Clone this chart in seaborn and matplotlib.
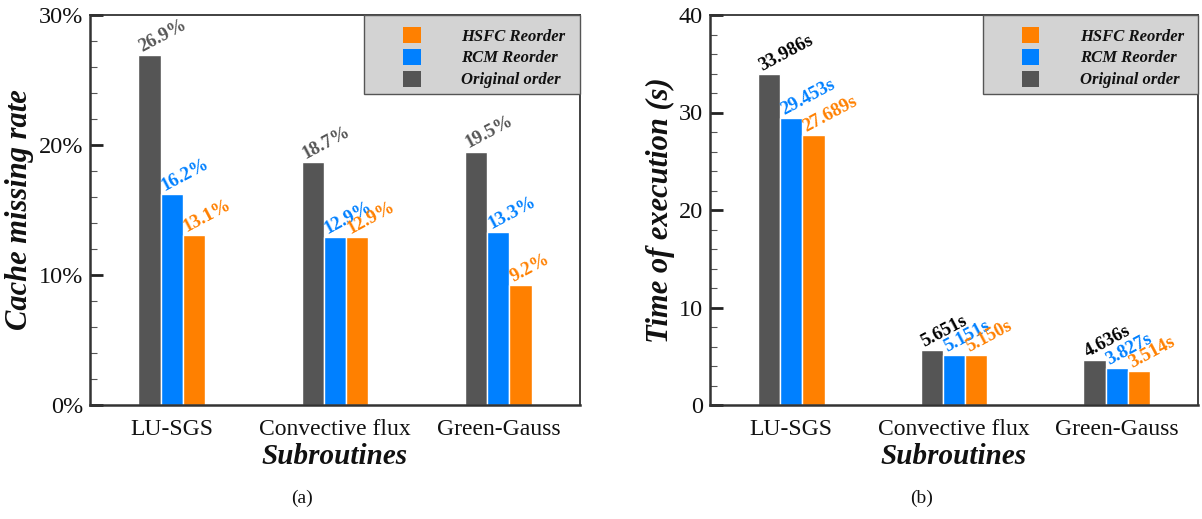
import matplotlib
matplotlib.use("Agg")
import matplotlib.pyplot as plt
from matplotlib.patches import Patch, Rectangle
from matplotlib.ticker import MultipleLocator, FuncFormatter
from matplotlib.transforms import ScaledTranslation
import seaborn as sns
import pandas as pd

# Data
subroutines = ["LU-SGS", "Convective flux", "Green-Gauss"]
orders = ["Original order", "RCM Reorder", "HSFC Reorder"]

miss_original = [26.9, 18.7, 19.5]
miss_rcm = [16.2, 12.9, 13.3]
miss_hsfc = [13.1, 12.9, 9.2]

time_original = [33.986, 5.651, 4.636]
time_rcm = [29.453, 5.151, 3.827]
time_hsfc = [27.689, 5.150, 3.514]

colors = {"Original order": "#555555", "RCM Reorder": "#0080ff", "HSFC Reorder": "#ff8000"}
left_label_colors = {"Original order": "#555555", "RCM Reorder": "#0080ff", "HSFC Reorder": "#ff8000"}
right_label_colors = {"Original order": "#000000", "RCM Reorder": "#0080ff", "HSFC Reorder": "#ff8000"}


def long_frame(orig, rcm, hsfc):
    rows = []
    for name, vals in zip(orders, [orig, rcm, hsfc]):
        for sub, v in zip(subroutines, vals):
            rows.append({"Subroutine": sub, "Order": name, "Value": v})
    return pd.DataFrame(rows)


df_miss = long_frame(miss_original, miss_rcm, miss_hsfc)
df_time = long_frame(time_original, time_rcm, time_hsfc)

sns.set_theme(style="white")
plt.rcParams["font.family"] = ["Liberation Serif", "DejaVu Serif"]
plt.rcParams["text.color"] = "#111111"
plt.rcParams["axes.labelcolor"] = "#111111"
plt.rcParams["xtick.labelcolor"] = "#111111"
plt.rcParams["ytick.labelcolor"] = "#111111"

fig = plt.figure(figsize=(12.02, 5.19), dpi=100)
ax1 = fig.add_axes([90 / 1202, 1 - 405 / 519, 490 / 1202, 390 / 519])
ax2 = fig.add_axes([710 / 1202, 1 - 405 / 519, 488 / 1202, 390 / 519])


def draw_panel(ax, df, ymax, fmt, label_colors, ylabel, yfmt):
    sns.barplot(data=df, x="Subroutine", y="Value", hue="Order",
                order=subroutines, hue_order=orders, palette=colors,
                width=0.41, edgecolor="white", linewidth=1.0,
                saturation=1, errorbar=None, legend=False, ax=ax)
    ax.set_xlim(-0.5, 2.5)
    ax.set_ylim(0, ymax)
    ax.yaxis.set_major_locator(MultipleLocator(10))
    ax.yaxis.set_minor_locator(MultipleLocator(2))
    ax.yaxis.set_major_formatter(FuncFormatter(yfmt))
    ax.tick_params(axis="y", which="major", direction="in", length=9, width=2,
                   color="#222222", labelsize=17.5, pad=5, left=True)
    ax.tick_params(axis="y", which="minor", direction="in", length=5, width=0.8,
                   color="#555555", left=True)
    ax.tick_params(axis="x", bottom=False, labelsize=17, pad=4)
    for s in ax.spines.values():
        s.set_color("#333333")
        s.set_linewidth(1.3)
        s.set_visible(True)
    ax.spines["left"].set_linewidth(1.8)
    ax.spines["bottom"].set_linewidth(1.8)
    ax.set_xlabel("Subroutines", fontsize=21, fontweight="bold",
                  fontstyle="italic", labelpad=2)
    ax.set_ylabel(ylabel, fontsize=22, fontweight="bold",
                  fontstyle="italic", labelpad=3)

    # value labels, rotated and anchored just right of each bar's top-left corner
    shift = ScaledTranslation(4 / 100, 3 / 100, fig.dpi_scale_trans)
    for cont, name in zip(ax.containers, orders):
        for bar in cont:
            h = bar.get_height()
            ax.text(bar.get_x(), h, fmt(h),
                    transform=ax.transData + shift,
                    rotation=28, rotation_mode="anchor", ha="left", va="baseline",
                    fontsize=13.5, fontweight="bold", color=label_colors[name])

    # legend box in the upper-right corner
    ax.add_patch(Rectangle((1 - 216 / 490, 1 - 79 / 390), 216 / 490, 79 / 390,
                           transform=ax.transAxes, facecolor="#d3d3d3",
                           edgecolor="#555555", linewidth=1.0, zorder=3,
                           clip_on=False))
    handles = [Patch(facecolor=colors[n], edgecolor="none") for n in reversed(orders)]
    leg = ax.legend(handles, list(reversed(orders)), loc="upper left",
                    bbox_to_anchor=(1 - 177 / 490, 1 - 12 / 390),
                    frameon=False, handlelength=1.05, handleheight=1.1,
                    handletextpad=2.45, labelspacing=0.25, borderpad=0,
                    borderaxespad=0,
                    prop={"family": "Liberation Serif", "weight": "bold",
                          "style": "italic", "size": 12})
    leg.set_zorder(4)


draw_panel(ax1, df_miss, 30, lambda v: f"{v:.1f}%", left_label_colors,
           "Cache missing rate", lambda v, p: f"{v:.0f}%")
draw_panel(ax2, df_time, 40, lambda v: f"{v:.3f}s", right_label_colors,
           "Time of execution (s)", lambda v, p: f"{v:.0f}")

fig.text(302 / 1202, 1 - 498 / 519, "(a)", ha="center", va="center", fontsize=14)
fig.text(922 / 1202, 1 - 498 / 519, "(b)", ha="center", va="center", fontsize=14)

fig.savefig("out.png", dpi=100, facecolor="white")
